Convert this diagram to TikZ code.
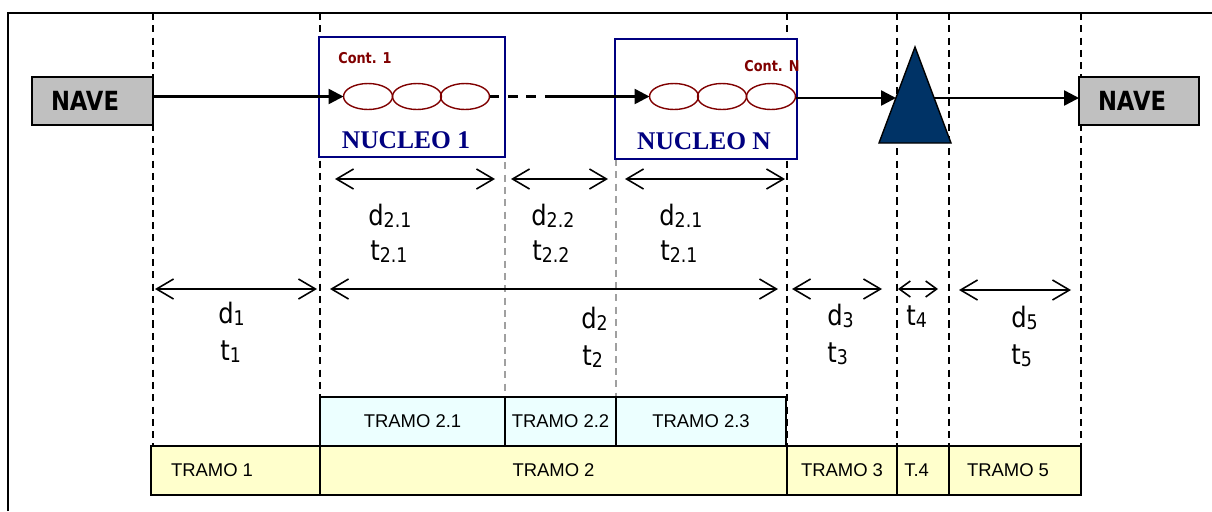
\documentclass[tikz,border=0pt]{standalone}
\usepackage{fontspec}
\setmainfont{Liberation Sans}
\newfontfamily\tah[FakeStretch=0.86]{DejaVu Sans}
\newfontfamily\tms{Liberation Serif}
\usetikzlibrary{arrows.meta,shapes.geometric}
\definecolor{navyb}{RGB}{0,0,128}
\definecolor{contred}{RGB}{128,0,0}
\definecolor{trifill}{RGB}{0,51,102}
\definecolor{navegray}{RGB}{192,192,192}
\definecolor{cyanl}{RGB}{236,255,255}
\definecolor{yell}{RGB}{255,255,204}
\definecolor{gdashc}{RGB}{160,160,160}
\newcommand\sbs[1]{{\fontsize{11.5}{11.5}\selectfont\raisebox{-1.5pt}{#1}}}
\begin{document}
\begin{tikzpicture}[x=0.02cm,y=-0.02cm,
 vdash/.style={line width=0.75pt, dash pattern=on 4pt off 3pt},
 gdash/.style={line width=0.75pt, dash pattern=on 4pt off 3pt, draw=gdashc},
 navebox/.style={draw, line width=1.1pt, fill=navegray, minimum width=2.42cm, minimum height=0.96cm, inner sep=0, outer sep=0},
 navetxt/.style={font=\tah\bfseries\fontsize{15}{15}\selectfont, inner sep=0},
 nucbox/.style={draw=navyb, line width=1.1pt, fill=white, minimum height=2.4cm, inner sep=0, outer sep=0},
 nuctxt/.style={text=navyb, font=\tms\bfseries\fontsize{14.5}{14.5}\selectfont, inner sep=0},
 cont/.style={ellipse, draw=contred, line width=0.8pt, minimum width=0.98cm, minimum height=0.52cm, inner sep=0, outer sep=0},
 conttxt/.style={text=contred, font=\tah\bfseries\fontsize{8.5}{8.5}\selectfont, inner sep=0},
 flow/.style={line width=1.4pt, -{Triangle[length=3mm,width=3mm]}},
 dim/.style={line width=0.9pt, {Straight Barb[length=3.4mm,width=4mm]}-{Straight Barb[length=3.4mm,width=4mm]}},
 lab/.style={font=\tah\fontsize{16}{16}\selectfont, inner sep=0, anchor=base west},
 tramo/.style={draw, line width=0.9pt, minimum height=0.98cm, inner sep=0, outer sep=0, font=\fontsize{10.5}{10.5}\selectfont},
 tramotxt/.style={font=\fontsize{10.5}{10.5}\selectfont, inner sep=0},
]
\useasboundingbox (0,0) rectangle (1212,511);
% frame
\draw[line width=0.85pt] (8,511) -- (8,13) -- (1212,13);
% dashed separators
\foreach \xx/\yy in {153/446, 320/397, 787/446, 897/446, 949/446, 1081/446}
  \draw[vdash] (\xx,13) -- (\xx,\yy);
\draw[gdash] (505,150) -- (505,397);
\draw[gdash] (616,159) -- (616,397);
% nucleo boxes
\node[nucbox, minimum width=3.72cm] (nuc1) at (412,97) {};
\node[nucbox, minimum width=3.64cm] (nucN) at (706,99) {};
% nave boxes
\node[navebox] (nave1) at (92.5,101) {};
\node[navebox, minimum width=2.4cm] (nave2) at (1139,101) {};
\node[navetxt] (nave1t) at (85,101) {NAVE};
\node[navetxt] (nave2t) at (1132,101) {NAVE};
% triangle
\draw[line width=0.8pt, fill=trifill] (879,143) -- (915,47) -- (951,143) -- cycle;
\coordinate (triL) at (896,98);
\coordinate (triR) at (934,98);
% containers
\node[cont] (e11) at (368,96.5) {};
\node[cont] (e12) at (417,96.5) {};
\node[cont] (e13) at (465,96.5) {};
\node[cont] (eN1) at (674,96.5) {};
\node[cont] (eN2) at (722,96.5) {};
\node[cont] (eN3) at (771,96.5) {};
\coordinate (gap) at (553,96.5);
% flow arrows
\draw[flow] (nave1.east |- e11.west) -- (e11.west);
\draw[line width=1.2pt, dash pattern=on 5.5pt off 5pt] (e13.east) -- (gap);
\draw[flow] (gap) -- (eN1.west);
\draw[flow] (eN3.east |- triL) -- (triL);
\draw[flow] (triR) -- (nave2.west |- triR);
% texts in nucleo
\node[conttxt] (c1) at (365,58) {Cont. 1};
\node[conttxt] (cN) at (772,66.5) {Cont. N};
\node[nuctxt] (nuc1t) at (406,140) {NUCLEO 1};
\node[nuctxt] (nucNt) at (704,141) {NUCLEO N};
% dimension arrows row 1
\coordinate (a1) at (335,179); \coordinate (a2) at (495,179);
\coordinate (a3) at (511,179); \coordinate (a4) at (608,179);
\coordinate (a5) at (625,179); \coordinate (a6) at (785,179);
\draw[dim] (a1) -- (a2);
\draw[dim] (a3) -- (a4);
\draw[dim] (a5) -- (a6);
\node[lab] (d21a) at (368,225) {d\sbs{2.1}};
\node[lab] (t21a) at (370,260) {t\sbs{2.1}};
\node[lab] (d22) at (531,225) {d\sbs{2.2}};
\node[lab] (t22) at (532,260) {t\sbs{2.2}};
\node[lab] (d21b) at (659,225) {d\sbs{2.1}};
\node[lab] (t21b) at (660,260) {t\sbs{2.1}};
% dimension arrows row 2
\coordinate (b1) at (155,289); \coordinate (b2) at (317,289);
\coordinate (b3) at (330,289); \coordinate (b4) at (778,289);
\coordinate (b5) at (792,289); \coordinate (b6) at (882,289);
\coordinate (b7) at (898,289); \coordinate (b8) at (938,289);
\coordinate (b9) at (959,290); \coordinate (b10) at (1071,290);
\draw[dim] (b1) -- (b2);
\draw[dim] (b3) -- (b4);
\draw[dim] (b5) -- (b6);
\draw[line width=0.9pt, {Straight Barb[length=2.2mm,width=3.2mm]}-{Straight Barb[length=2.2mm,width=3.2mm]}] (b7) -- (b8);
\draw[dim] (b9) -- (b10);
\node[lab] (d1) at (218,323) {d\sbs{1}};
\node[lab] (t1) at (220,360) {t\sbs{1}};
\node[lab] (d2) at (581,328) {d\sbs{2}};
\node[lab] (t2) at (582,365) {t\sbs{2}};
\node[lab] (d3) at (827,325) {d\sbs{3}};
\node[lab] (t3) at (827,362) {t\sbs{3}};
\node[lab] (t4) at (906,325) {t\sbs{4}};
\node[lab] (d5) at (1011,327) {d\sbs{5}};
\node[lab] (t5) at (1011,364) {t\sbs{5}};
% tramo boxes
\node[tramo, fill=cyanl, minimum width=3.7cm] (tr21) at (412.5,421.5) {TRAMO 2.1};
\node[tramo, fill=cyanl, minimum width=2.22cm] (tr22) at (560.5,421.5) {TRAMO 2.2};
\node[tramo, fill=cyanl, minimum width=3.4cm] (tr23) at (701,421.5) {TRAMO 2.3};
\node[tramo, fill=yell, minimum width=3.38cm] (tr1) at (235.5,470.5) {};
\node[tramo, fill=yell, minimum width=9.34cm] (tr2) at (553.5,470.5) {TRAMO 2};
\node[tramo, fill=yell, minimum width=2.2cm] (tr3) at (842,470.5) {TRAMO 3};
\node[tramo, fill=yell, minimum width=1.04cm] (tr4) at (923,470.5) {};
\node[tramo, fill=yell, minimum width=2.64cm] (tr5) at (1015,470.5) {};
\node[tramotxt] (tr1t) at (212,470) {TRAMO 1};
\node[tramotxt, anchor=west] (tr4t) at (904,470) {T.4};
\node[tramotxt] (tr5t) at (1008,470) {TRAMO 5};
\end{tikzpicture}
\end{document}
